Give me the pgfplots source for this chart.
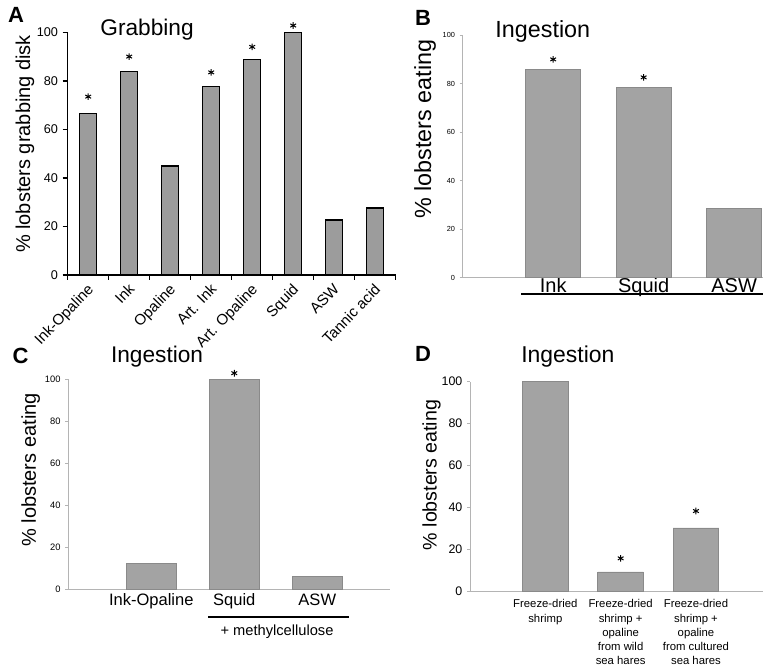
\documentclass[border=0pt]{standalone}
\usepackage{pgfplots}
\pgfplotsset{compat=1.18}
\usepackage{fontspec}
\setmainfont{Liberation Sans}
\definecolor{barA}{HTML}{9C9C9C}
\definecolor{barB}{HTML}{A3A3A3}
\definecolor{edgeB}{HTML}{8A8A8A}
\definecolor{axB}{HTML}{B4B4B4}
\pgfplotsset{
  panel/.style={scale only axis, anchor=south west, axis x line=bottom, axis y line=left,
    axis line style={-}, ymin=0, ymax=100, ytick={0,20,...,100}, tick align=outside,
    clip=false, /pgf/number format/assume math mode=true,
    title style={anchor=center}, ylabel style={anchor=center}},
  lightpanel/.style={panel, axis line style={axB, line width=0.6pt}, xtick style={draw=none},
    ytick style={axB, line width=0.6pt}, major tick length=2.25pt},
  star/.style={only marks, mark=asterisk, mark size=2.5pt, black, line width=0.75pt}
}
\begin{document}
\begin{tikzpicture}
\path[use as bounding box] (0,0) rectangle (572.25pt,500.25pt);
% ---------------- A
\begin{axis}[panel, at={(50.78pt,294pt)}, width=246pt, height=182pt,
  xmin=0, xmax=8, xtick={0,...,8}, xticklabels={,,,,,,,,},
  axis line style={black, line width=1pt}, tick style={black, line width=1pt},
  major tick length=3.75pt,
  extra x ticks={0.5,1.5,...,7.5},
  extra x tick labels={Ink-Opaline,Ink,Opaline,Art. Ink,Art. Opaline,Squid,ASW,Tannic acid},
  extra x tick style={major tick length=0pt, xticklabel style={rotate=46, anchor=north east, inner sep=0pt, yshift=-3pt, xshift=-5pt, font=\fontsize{11.3}{12}\selectfont}},
  yticklabel style={font=\fontsize{9.5}{10}\selectfont},
  title={Grabbing}, title style={at={(axis description cs:0.242,0.98)}, font=\fontsize{17}{18}\selectfont},
  ylabel={\% lobsters grabbing disk}, ylabel style={at={(axis description cs:-0.130,0.54)}, font=\fontsize{15}{16}\selectfont}]
\addplot[ybar, bar width=12.75pt, fill=barA, draw=black, line width=0.9pt]
  coordinates {(0.5,66.5) (1.5,83.9) (2.5,44.9) (3.5,77.7) (4.5,88.9) (5.5,100) (6.5,22.7) (7.5,27.6)};
\addplot[star] coordinates {(0.5,73.5) (1.5,90) (3.5,83.5) (4.5,94) (5.5,102.8)};
\end{axis}
% ---------------- B
\begin{axis}[lightpanel, at={(347pt,291.9pt)}, width=225.2pt, height=182pt,
  xmin=0, xmax=3.318, xtick={1,2,3}, xticklabels={Ink,Squid,ASW},
  xticklabel style={font=\fontsize{15}{16}\selectfont, inner sep=0pt, yshift=2pt},
  yticklabel style={font=\fontsize{5.5}{6}\selectfont},
  title={Ingestion}, title style={at={(axis description cs:0.267,0.983)}, font=\fontsize{17.5}{18}\selectfont},
  ylabel={\% lobsters eating}, ylabel style={at={(axis description cs:-0.1255,0.613)}, font=\fontsize{17.5}{18}\selectfont}]
\addplot[ybar, bar width=41.25pt, fill=barB, draw=edgeB, line width=0.6pt]
  coordinates {(1,85.7) (2,78.6) (3,28.4)};
\addplot[star] coordinates {(1,90) (2,82.6)};
\end{axis}
% ---------------- C
\begin{axis}[lightpanel, at={(51.2pt,58.3pt)}, width=241.3pt, height=157.5pt,
  xmin=0, xmax=3.876, xtick={1,2,3}, xticklabels={Ink-Opaline,Squid,ASW},
  xticklabel style={font=\fontsize{12.4}{13}\selectfont, inner sep=0pt, yshift=-1pt},
  yticklabel style={font=\fontsize{7}{8}\selectfont},
  title={Ingestion}, title style={at={(axis description cs:0.276,1.068)}, font=\fontsize{17}{18}\selectfont},
  ylabel={\% lobsters eating}, ylabel style={at={(axis description cs:-0.117,0.568)}, font=\fontsize{15}{16}\selectfont}]
\addplot[ybar, bar width=37.5pt, fill=barB, draw=edgeB, line width=0.6pt]
  coordinates {(1,12.5) (2,100) (3,6.3)};
\addplot[star] coordinates {(2,102.9)};
\end{axis}
% ---------------- D
\begin{axis}[lightpanel, at={(352.5pt,57pt)}, width=219.75pt, height=157pt,
  xmin=0, xmax=3.89, xtick={1,2,3},
  xticklabels={{Freeze-dried\\shrimp},{Freeze-dried\\shrimp +\\opaline\\from wild\\sea hares},{Freeze-dried\\shrimp +\\opaline\\from cultured\\sea hares}},
  xticklabel style={font=\fontsize{8.5}{10.7}\selectfont, align=center, inner sep=0pt, yshift=-4pt},
  yticklabel style={font=\fontsize{9.3}{10}\selectfont},
  title={Ingestion}, title style={at={(axis description cs:0.334,1.08)}, font=\fontsize{17.2}{18}\selectfont},
  ylabel={\% lobsters eating}, ylabel style={at={(axis description cs:-0.131,0.554)}, font=\fontsize{14.7}{16}\selectfont}]
\addplot[ybar, bar width=34.2pt, fill=barB, draw=edgeB, line width=0.6pt]
  coordinates {(1,100) (2,9.1) (3,30.1)};
\addplot[star] coordinates {(2,15.6) (3,38.2)};
\end{axis}
% ---------------- decorations
\draw[line width=1.5pt] (390.75pt,279.75pt) -- (572.25pt,279.75pt);
\draw[line width=1.3pt] (156pt,37.3pt) -- (261.75pt,37.3pt);
\node[font=\fontsize{11}{12}\selectfont] at (207.75pt,26.5pt) {+ methylcellulose};
\node[font=\fontsize{16.5}{17}\selectfont\bfseries] at (12pt,489pt) {A};
\node[font=\fontsize{16.5}{17}\selectfont\bfseries] at (317.25pt,486.75pt) {B};
\node[font=\fontsize{16.5}{17}\selectfont\bfseries] at (15.4pt,233.6pt) {C};
\node[font=\fontsize{16.5}{17}\selectfont\bfseries] at (317.25pt,234.75pt) {D};
\end{tikzpicture}
\end{document}
